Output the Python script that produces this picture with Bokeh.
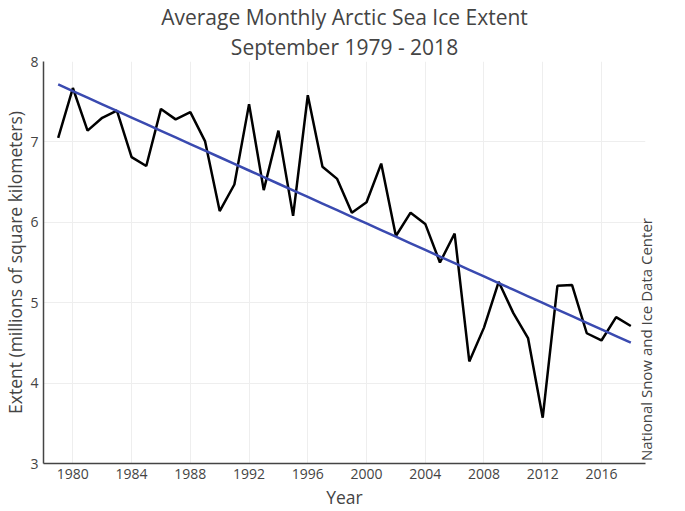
import math
import numpy as np
from bokeh.plotting import figure
from bokeh.models import FixedTicker, Range1d, Title, LinearAxis
from bokeh.embed import file_html
from bokeh.resources import INLINE

years = list(range(1979, 2019))
extent = [7.05, 7.67, 7.14, 7.30, 7.39, 6.81, 6.70, 7.41, 7.28, 7.37,
          7.01, 6.14, 6.47, 7.47, 6.40, 7.14, 6.08, 7.58, 6.69, 6.54,
          6.12, 6.25, 6.73, 5.83, 6.12, 5.98, 5.50, 5.86, 4.27, 4.69,
          5.26, 4.87, 4.56, 3.57, 5.21, 5.22, 4.62, 4.53, 4.82, 4.71]
x_ticks = [1980, 1984, 1988, 1992, 1996, 2000, 2004, 2008, 2012, 2016]
y_ticks = [3, 4, 5, 6, 7, 8]
title_main = "Average Monthly Arctic Sea Ice Extent"
title_sub = "September 1979 - 2018"
x_label = "Year"
y_label = "Extent (millions of square kilometers)"
source_label = "National Snow and Ice Data Center"

slope, intercept = np.polyfit(years, extent, 1)
trend = [slope * y + intercept for y in years]

FONT = "Open Sans"
TXT = "#444444"
SOURCE_ANCHOR = 3.03  # where the vertical source note starts (bottom end)

p = figure(width=669, height=511, output_backend="svg", toolbar_location=None,
           x_range=Range1d(1978, 2019), y_range=Range1d(3, 8),
           min_border_left=34, min_border_right=0, min_border_top=10, min_border_bottom=46)
p.title = None
p.outline_line_color = None

p.add_layout(Title(text=title_sub, align="center", text_font=FONT, text_font_size="21px",
                   text_font_style="normal", text_color=TXT,
                   standoff=1, offset=0), "above")
p.add_layout(Title(text=title_main, align="center", text_font=FONT, text_font_size="21px",
                   text_font_style="normal", text_color=TXT,
                   standoff=0, offset=0), "above")

p.line(years, extent, line_color="black", line_width=2.5)
p.line(years, trend, line_color="#3a4ab0", line_width=2.5)

right_axis = LinearAxis(ticker=FixedTicker(ticks=[SOURCE_ANCHOR]),
                        major_label_overrides={SOURCE_ANCHOR: source_label},
                        major_label_orientation=math.pi / 2,
                        axis_line_color=None, major_tick_line_color=None,
                        minor_tick_line_color=None, major_tick_in=0, major_tick_out=0,
                        major_label_text_font=FONT, major_label_text_font_size="15px",
                        major_label_text_color=TXT, major_label_standoff=1,
                        axis_label_standoff=0)
p.add_layout(right_axis, "right")

xa, ya = p.below[0], p.left[0]
xa.ticker = FixedTicker(ticks=x_ticks)
ya.ticker = FixedTicker(ticks=y_ticks)
p.xgrid.ticker = FixedTicker(ticks=x_ticks)
p.ygrid.ticker = FixedTicker(ticks=y_ticks)
p.grid.grid_line_color = "#eeeeee"
p.grid.grid_line_width = 1

for ax in (xa, ya):
    ax.axis_line_color = "#444444"
    ax.axis_line_width = 1.5
    ax.major_tick_line_color = None
    ax.minor_tick_line_color = None
    ax.major_tick_out = 0
    ax.major_tick_in = 0
    ax.major_label_text_font = FONT
    ax.major_label_text_font_size = "14px"
    ax.major_label_text_color = TXT
    ax.axis_label_text_font = FONT
    ax.axis_label_text_font_size = "17.5px"
    ax.axis_label_text_font_style = "normal"
    ax.axis_label_text_color = TXT

xa.axis_label = x_label
ya.axis_label = y_label
xa.major_label_standoff = 5
xa.axis_label_standoff = 3
ya.major_label_standoff = 5
ya.axis_label_standoff = 0

open("out.html", "w").write(file_html(p, INLINE))
